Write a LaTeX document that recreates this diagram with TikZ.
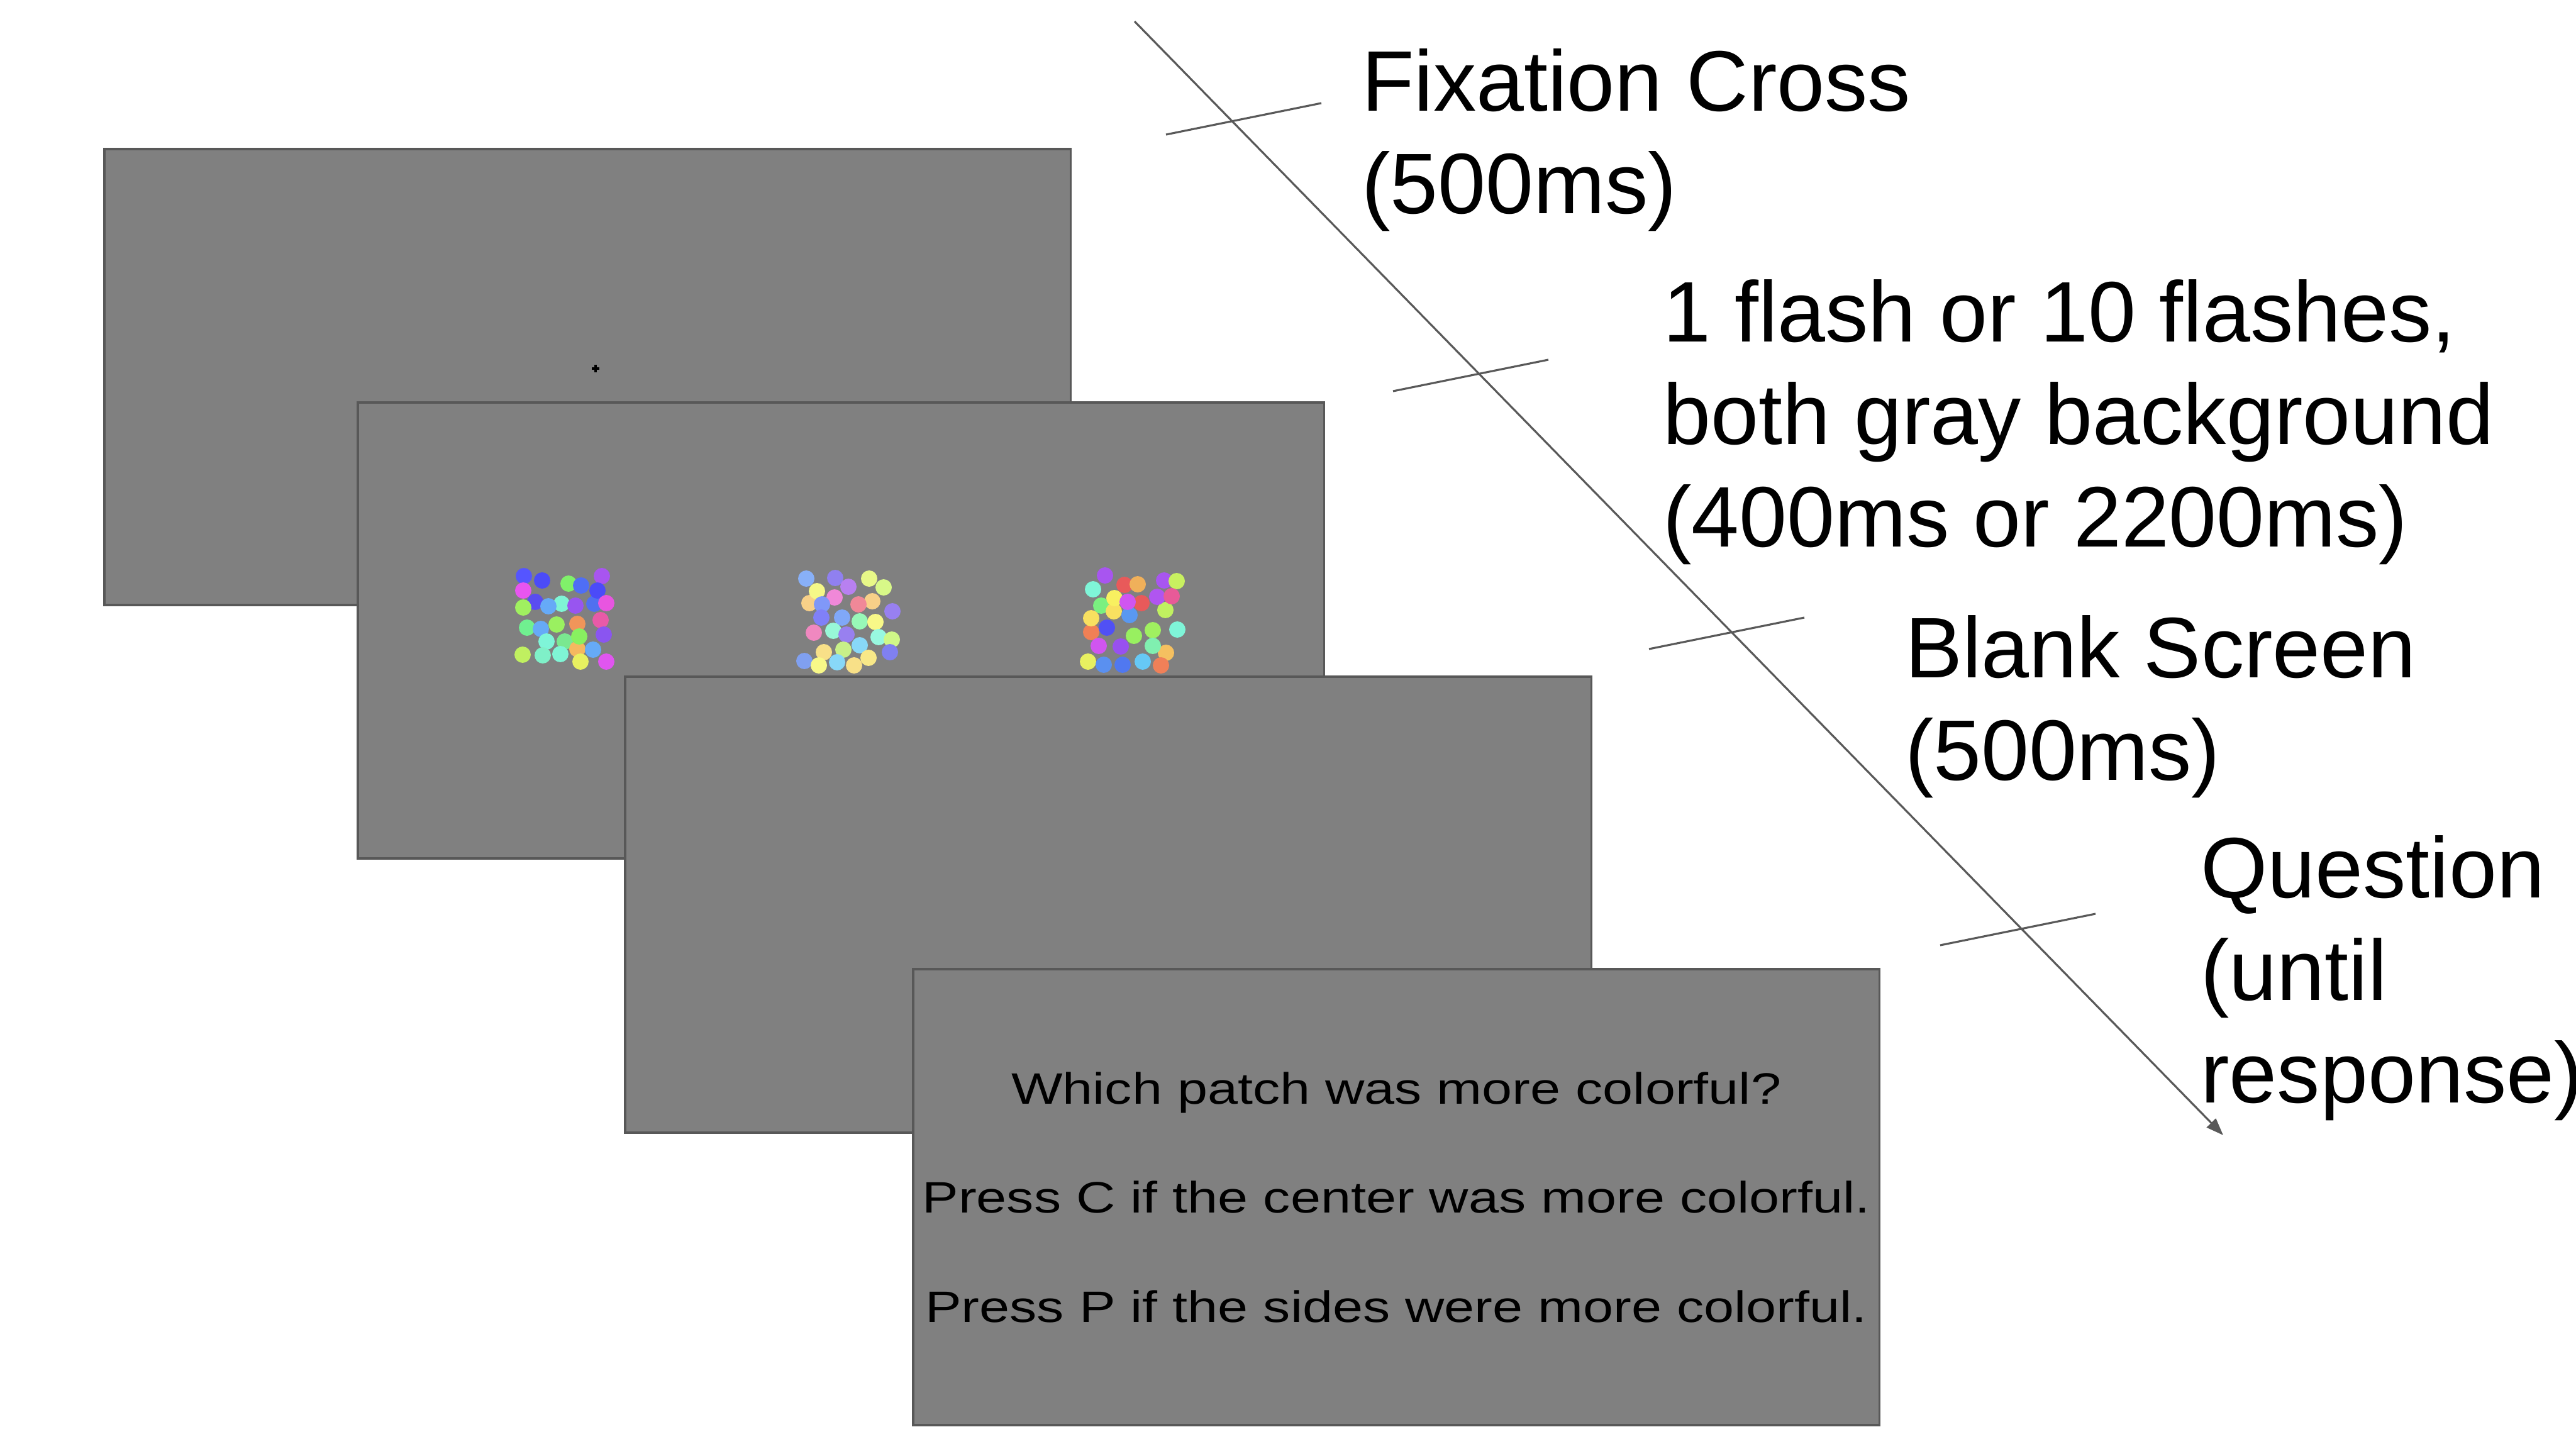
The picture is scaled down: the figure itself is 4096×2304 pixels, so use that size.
\documentclass[tikz,border=0pt]{standalone}
\usepackage{fontspec}
\setmainfont{Liberation Sans}
\newfontfamily\promptfont[FakeStretch=1.235]{Liberation Sans}
\usetikzlibrary{
  arrows.meta,
  positioning
}
\definecolor{scrFill}{HTML}{808080}
\definecolor{scrEdge}{HTML}{585858}
\definecolor{tlLine}{HTML}{595959}
\tikzset{
  screen/.style={
    draw=scrEdge, fill=scrFill, line width=0.55pt, inner sep=0pt,
    minimum width=7.69cm, minimum height=3.63cm, anchor=north west
  },
  prompt/.style={screen, align=center, font=\promptfont\fontsize{9.96}{24.7}\selectfont},
  steplabel/.style={anchor=north west, inner sep=0pt, align=left, font=\fontsize{19.45}{23.2}\selectfont},
  timeline/.style={-{Triangle[length=1.37mm, width=1mm]}, line width=0.45pt, tlLine},
  tickmark/.style={line width=0.45pt, tlLine},
  fixcross/.style={line width=0.45pt, black}
}

\begin{document}
\begin{tikzpicture}[x=0.005cm, y=-0.005cm]
  \useasboundingbox (0,0) rectangle (4096,2304);

  \node[screen] (fixscreen) at (164,235) {};
  \draw[fixcross] (941,586) -- (953,586) (947,580) -- (947,592);

  \node[screen] (flashscreen) at (567,638) {};
  \foreach \px/\py/\hex in {
    833/916/5555FF, 862/923/4B4BF8, 957/916/A855F0, 904/928/80F06A, 924/931/4F6EF5,
    832/939/E855F0, 851/957/5A4CF0, 945/960/5070F0, 950/939/4B4BF8, 893/960/7FF5D5,
    872/964/66AAF7, 915/963/9855F0, 964/959/E855E0, 832/966/A0F060, 955/986/E85AA8,
    918/992/F0955A, 838/998/70F090, 860/1000/66AAF7, 885/993/9AF060, 960/1009/8A55F0,
    869/1020/7FF5D8, 898/1020/7AE890, 918/1032/F5B860, 921/1012/88F060, 943/1033/66AAF7,
    831/1041/C0F060, 863/1042/7FF0C8, 891/1040/7FF5D5, 923/1052/E8F060, 964/1052/E055F0,
    1282/920/88B0F8, 1328/919/9080F0, 1382/920/E8F888, 1287/959/F8D088, 1299/940/F5F888,
    1349/933/B880F0, 1405/934/D8F888, 1327/950/F088D8, 1307/961/8098F8, 1387/956/F8D088,
    1365/961/F08898, 1419/972/9880F0, 1306/982/8080F8, 1339/982/80A8F8, 1367/988/98F8B8,
    1392/989/F8F888, 1294/1006/F088C0, 1325/1003/98F8D8, 1346/1009/9880F0, 1397/1013/98F8E0,
    1418/1017/D0F888, 1367/1026/88D8F8, 1310/1037/F8E088, 1341/1033/C8F088, 1415/1037/8080F0,
    1279/1051/80A0F0, 1302/1058/F8F888, 1331/1053/88D8F8, 1381/1046/F8E888, 1358/1058/F8E088,
    1738/937/7FF5D8, 1757/915/A855F0, 1788/930/E85A5A, 1809/929/F0B05A, 1851/923/A855F0,
    1871/924/C8F060, 1853/970/C0F060, 1840/949/B055F0, 1863/948/E85A98, 1751/963/7AF080,
    1771/972/F8E060, 1796/978/5A98F0, 1772/951/F8F060, 1815/959/E85A5A, 1793/957/D055F0,
    1735/1005/F08055, 1735/983/F8E060, 1760/998/5050F5, 1803/1011/98F060, 1833/1002/A0F060,
    1872/1001/7FF5D8, 1747/1027/D055F0, 1782/1028/9850F0, 1854/1038/F5C060, 1833/1027/80F0B0,
    1730/1052/E8F060, 1755/1057/5A90F0, 1785/1057/5078F0, 1817/1052/66C8F5, 1846/1058/F08058}
  {
    \definecolor{dotcol}{HTML}{\hex}
    \fill[dotcol] (\px,\py) circle[radius=0.065cm];
  }

  \node[screen] (blankscreen) at (992,1074) {};
  \node[prompt] (questscreen) at (1450,1539)
    {Which patch was more colorful?\\Press C if the center was more colorful.\\Press P if the sides were more colorful.};

  \coordinate (tstart) at (1804,34);
  \coordinate (tend) at (3535,1805);
  \draw[timeline] (tstart) -- (tend);
  \foreach \tx/\ty in {1854/214, 2215/622, 2622/1032, 3085/1503}
    \draw[tickmark] (\tx,\ty) -- ++(247,-50);

  \node[steplabel] (fixlabel) at (2164,76) {Fixation Cross\\(500ms)};
  \node[steplabel] (flashlabel) at (2643,443) {1 flash or 10 flashes,\\both gray background\\(400ms or 2200ms)};
  \node[steplabel] (blanklabel) at (3028,977) {Blank Screen\\(500ms)};
  \node[steplabel] (questlabel) at (3498,1327) {Question\\(until\\response)};
\end{tikzpicture}
\end{document}
